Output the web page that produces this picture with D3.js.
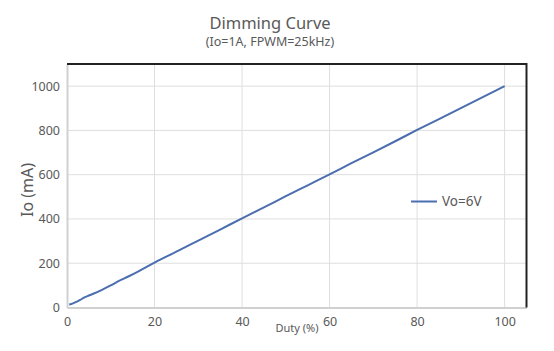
<!DOCTYPE html>
<html><head><meta charset="utf-8">
<script src="https://cdn.jsdelivr.net/npm/d3@7"></script>
<style>body{margin:0;background:#fff;}svg{display:block;font-family:"Noto Sans",sans-serif;}</style>
</head><body>
<svg id="c" width="554" height="351"></svg>
<script>
const duty = [0.5,1,2,3,4,5,6,8,10,12,14,16,18,20,25,30,35,40,45,50,55,60,65,70,75,80,85,90,95,100];
const io   = [14,16,24,34,46,54,62,80,100,121,140,160,181,203,252,302,352,403,452,503,552,601,652,701,751,802,851,901,950,1000];
const xTicks = [0,20,40,60,80,100];
const yTicks = [0,200,400,600,800,1000];
const seriesName = "Vo=6V";

const svg = d3.select("#c");
const L=67, R=526.5, T=64, B=307.5;
const x = d3.scaleLinear().domain([0,105]).range([L,R]);
const y = d3.scaleLinear().domain([0,1100]).range([B,T]);
const txt = "#595959";

// grid
svg.append("g").selectAll("line").data(yTicks.slice(1)).join("line")
  .attr("x1",L).attr("x2",R).attr("y1",d=>y(d)).attr("y2",d=>y(d))
  .attr("stroke","#dedede").attr("stroke-width",1);
svg.append("g").selectAll("line").data(xTicks.slice(1)).join("line")
  .attr("y1",T).attr("y2",B).attr("x1",d=>x(d)).attr("x2",d=>x(d))
  .attr("stroke","#dedede").attr("stroke-width",1);

// axes
const xa = svg.append("g").attr("transform",`translate(0,${B})`)
  .call(d3.axisBottom(x).tickValues(xTicks).tickFormat(d3.format("d")).tickSize(0).tickPadding(10));
const ya = svg.append("g").attr("transform",`translate(${L},0)`)
  .call(d3.axisLeft(y).tickValues(yTicks).tickFormat(d3.format("d")).tickSize(0).tickPadding(7));
[xa,ya].forEach(a=>{
  a.select(".domain").attr("stroke","#d0d0d0").attr("stroke-width",2);
  a.selectAll("text").attr("fill",txt).style("font-size","12.5px").style("font-family","Noto Sans");
});
// top/right borders
svg.append("line").attr("x1",L).attr("x2",R).attr("y1",T).attr("y2",T).attr("stroke","#222").attr("stroke-width",2);
svg.append("line").attr("x1",R).attr("x2",R).attr("y1",T-1).attr("y2",B).attr("stroke","#222").attr("stroke-width",2);

// line
const pts = duty.map((d,i)=>[d,io[i]]);
svg.append("path").datum(pts)
  .attr("fill","none").attr("stroke","#4a6eb0").attr("stroke-width",2)
  .attr("d",d3.line().x(d=>x(d[0])).y(d=>y(d[1])).curve(d3.curveMonotoneX));

// titles
svg.append("text").attr("x",270).attr("y",29).attr("text-anchor","middle")
  .attr("fill",txt).style("font-size","16.5px").text("Dimming Curve");
svg.append("text").attr("x",270).attr("y",46).attr("text-anchor","middle")
  .attr("fill",txt).style("font-size","12.5px").text("(Io=1A, FPWM=25kHz)");
svg.append("text").attr("transform","translate(33,190) rotate(-90)").attr("text-anchor","middle")
  .attr("fill",txt).style("font-size","16px").text("Io (mA)");
svg.append("text").attr("x",297).attr("y",332).attr("text-anchor","middle")
  .attr("fill",txt).style("font-size","11px").text("Duty (%)");

// legend
svg.append("line").attr("x1",411).attr("x2",437).attr("y1",201.5).attr("y2",201.5)
  .attr("stroke","#4a6eb0").attr("stroke-width",2);
svg.append("text").attr("x",442).attr("y",206).attr("fill",txt)
  .style("font-size","13.5px").text(seriesName);
</script>
</body></html>
